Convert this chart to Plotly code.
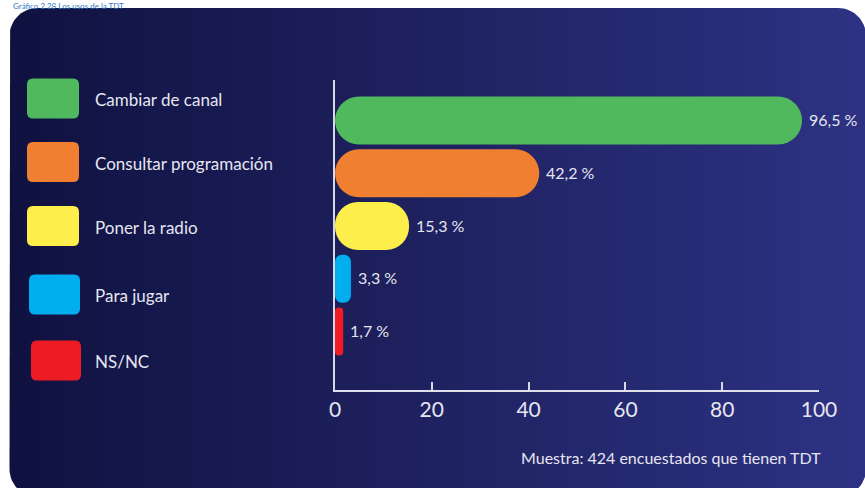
import numpy as np
import plotly.graph_objects as go

# ---------------- data ----------------
categories = ["Cambiar de canal", "Consultar programación", "Poner la radio", "Para jugar", "NS/NC"]
values = [96.5, 42.2, 15.3, 3.3, 1.7]
value_labels = ["96,5 %", "42,2 %", "15,3 %", "3,3 %", "1,7 %"]
colors = ["#50b95d", "#f07f32", "#fdee4b", "#00aeef", "#ed1c24"]
x_ticks = [0, 20, 40, 60, 80, 100]
title_text = "Gráfico 2.28 Los usos de la TDT"
note_text = "Muestra: 424 encuestados que tienen TDT"

W, H = 865, 488
FONT = "Lato"
TEXT = "#e6e6f0"

fig = go.Figure()

# ---------------- background panel (rounded, gradient) ----------------
def rounded_rect(x0, y0, x1, y1, r, n=16):
    xs, ys = [], []
    corners = [(x1 - r, y0 + r, -90, 0), (x1 - r, y1 - r, 0, 90),
               (x0 + r, y1 - r, 90, 180), (x0 + r, y0 + r, 180, 270)]
    for cx, cy, a0, a1 in corners:
        t = np.radians(np.linspace(a0, a1, n))
        xs += list(cx + r * np.cos(t))
        ys += list(cy + r * np.sin(t))
    xs.append(xs[0]); ys.append(ys[0])
    return xs, ys

px_, py_ = rounded_rect(9.5, 8, 866, 497, 28)
fig.add_trace(go.Scatter(
    x=px_, y=py_, mode="lines", line=dict(width=0), fill="toself",
    fillgradient=dict(type="horizontal",
                      colorscale=[[0, "#0f1240"], [0.5, "#1f2260"], [1, "#2d3284"]]),
    hoverinfo="skip", showlegend=False, xaxis="x", yaxis="y"))

# ---------------- bars (base set -> all four corners rounded) ----------------
plot_w_px = 819 - 335
px_per_unit = plot_w_px / 100.0
bar_width = 0.91
thick_px = bar_width * 52.75
for cat, v, c in zip(categories, values, colors):
    r = min(thick_px / 2, v * px_per_unit / 2)
    fig.add_trace(go.Bar(y=[cat], x=[v], base=[0], orientation="h",
                         width=bar_width, marker=dict(color=c, line=dict(width=0), cornerradius=r),
                         xaxis="x2", yaxis="y2", showlegend=False, hoverinfo="skip"))

annotations = []
for cat, v, lab in zip(categories, values, value_labels):
    annotations.append(dict(x=v, y=cat, xref="x2", yref="y2", text=lab, showarrow=False,
                            xanchor="left", yanchor="middle", xshift=5, yshift=1,
                            font=dict(family=FONT, size=16, color=TEXT)))

# ---------------- legend swatches + labels ----------------
sw_y = [98.5, 162, 226, 294.5, 360.5]
sw_x = [(27, 79), (27, 79), (27, 79), (29, 80), (31, 81)]
shapes = []
for (x0, x1), yc, c, cat in zip(sw_x, sw_y, colors, categories):
    y0, y1 = yc - 20, yc + 20
    rr = 6
    path = (f"M{x0+rr},{y0} L{x1-rr},{y0} Q{x1},{y0} {x1},{y0+rr} L{x1},{y1-rr} "
            f"Q{x1},{y1} {x1-rr},{y1} L{x0+rr},{y1} Q{x0},{y1} {x0},{y1-rr} "
            f"L{x0},{y0+rr} Q{x0},{y0} {x0+rr},{y0} Z")
    shapes.append(dict(type="path", path=path, xref="x", yref="y", fillcolor=c,
                       line=dict(width=0), layer="above"))
    annotations.append(dict(x=93, y=yc + 1, xref="x", yref="y", text=cat, showarrow=False,
                            xanchor="left", yanchor="middle",
                            font=dict(family=FONT, size=17, color=TEXT)))

# footnote
annotations.append(dict(x=823, y=457, xref="x", yref="y", text=note_text, showarrow=False,
                        xanchor="right", yanchor="middle",
                        font=dict(family=FONT, size=16, color=TEXT)))
# title (small, in the strip above the panel)
annotations.append(dict(x=12 / W, y=1, xref="paper", yref="paper", text=title_text,
                        showarrow=False, xanchor="left", yanchor="top", borderpad=0,
                        font=dict(family=FONT, size=8, color="#2f78c8")))

fig.update_layout(
    width=W, height=H, autosize=False,
    margin=dict(l=0, r=0, t=0, b=0, pad=0, autoexpand=False),
    paper_bgcolor="white", plot_bgcolor="rgba(0,0,0,0)",
    barmode="overlay",
    xaxis=dict(domain=[0, 1], range=[0, W], visible=False, fixedrange=True, automargin=False),
    yaxis=dict(domain=[0, 1], range=[H, 0], visible=False, fixedrange=True, automargin=False),
    xaxis2=dict(domain=[335 / W, 819 / W], range=[0, 100], anchor="y2", automargin=False,
                tickvals=x_ticks, ticks="inside", ticklen=8, tickwidth=1.5,
                tickcolor="#d8d8e6", showline=True, linecolor="#e0e0ea", linewidth=2,
                showgrid=False, zeroline=False, fixedrange=True,
                tickfont=dict(family=FONT, size=21, color=TEXT)),
    yaxis2=dict(domain=[1 - 390 / H, 1 - 80 / H], type="category", automargin=False,
                categoryorder="array", categoryarray=categories, fixedrange=True,
                range=[5.109, -0.768], anchor="x2", showline=True,
                linecolor="#d8d8e6", linewidth=2, showticklabels=False, ticks="",
                showgrid=False, zeroline=False),
    shapes=shapes,
    annotations=annotations,
    font=dict(family=FONT),
)

fig.write_html("out.html",
               config={"displayModeBar": False, "responsive": False},
               post_script="document.body.style.margin='0';document.body.style.overflow='hidden';")
